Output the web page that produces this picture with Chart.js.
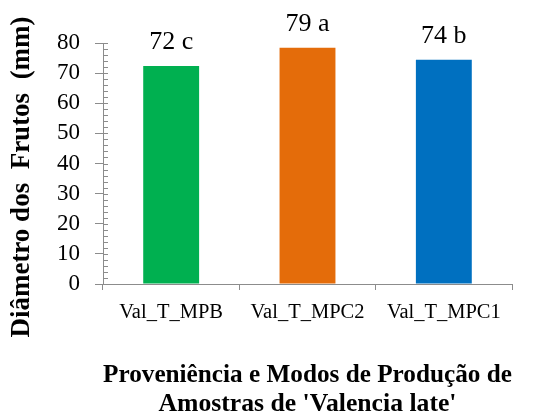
<!DOCTYPE html>
<html>
<head>
<meta charset="utf-8">
<script src="https://cdn.jsdelivr.net/npm/chart.js@4/dist/chart.umd.min.js"></script>
<style>
  html, body { margin: 0; padding: 0; background: #ffffff; }
  #wrap { width: 533px; height: 416px; }
</style>
</head>
<body>
<div id="wrap"><canvas id="c" width="533" height="416"></canvas></div>
<script>
const categories = ['Val_T_MPB', 'Val_T_MPC2', 'Val_T_MPC1'];
const values = [72.4, 78.4, 74.4];
const valueLabels = ['72 c', '79 a', '74 b'];
const barColors = ['#00B050', '#E46C0A', '#0070C0'];
const yTitle = 'Diâmetro dos  Frutos  (mm)    ';
const xTitle = ['Proveniência e Modos de Produção de', "Amostras de 'Valencia late'"];

const SERIF = '"Liberation Serif", "Times New Roman", serif';
const AXIS = '#8c8c8c';

const minorTicks = {
  id: 'minorTicks',
  afterDraw(chart) {
    const y = chart.scales.y;
    const ctx = chart.ctx;
    const left = chart.chartArea.left;
    ctx.save();
    ctx.strokeStyle = AXIS;
    ctx.lineWidth = 1;
    for (let v = y.min; v <= y.max; v += 2) {
      const p = Math.round(y.getPixelForValue(v)) + 0.5;
      ctx.beginPath();
      ctx.moveTo(left, p);
      ctx.lineTo(left + 5, p);
      ctx.stroke();
    }
    ctx.restore();
  }
};

const barLabels = {
  id: 'barLabels',
  afterDatasetsDraw(chart) {
    const ctx = chart.ctx;
    const meta = chart.getDatasetMeta(0);
    ctx.save();
    ctx.fillStyle = '#000';
    ctx.font = '26px ' + SERIF;
    ctx.textAlign = 'center';
    ctx.textBaseline = 'alphabetic';
    meta.data.forEach((bar, i) => {
      ctx.fillText(valueLabels[i], bar.x, bar.y - 17);
    });
    ctx.restore();
  }
};

new Chart(document.getElementById('c'), {
  type: 'bar',
  data: {
    labels: categories,
    datasets: [{
      data: values,
      backgroundColor: barColors,
      borderWidth: 0,
      barPercentage: 0.41,
      categoryPercentage: 1.0
    }]
  },
  options: {
    responsive: false,
    animation: false,
    devicePixelRatio: 1,
    layout: { padding: { top: 43, right: 21, left: 0, bottom: 0 } },
    plugins: { legend: { display: false }, tooltip: { enabled: false } },
    scales: {
      x: {
        afterFit(scale) { scale.height = 132; },
        grid: { display: true, drawOnChartArea: false, drawTicks: true, tickLength: 6, color: AXIS, offset: true },
        border: { display: true, color: AXIS, width: 1 },
        ticks: { color: '#000', font: { family: SERIF, size: 20.5 }, padding: 10, maxRotation: 0, autoSkip: false },
        title: {
          display: true,
          text: xTitle,
          color: '#000',
          font: { family: SERIF, size: 25.7, weight: 'bold', lineHeight: '29px' },
          padding: { top: 0, bottom: -3 }
        }
      },
      y: {
        min: 0,
        max: 80,
        afterFit(scale) { scale.width = 103; },
        grid: { display: true, drawOnChartArea: false, drawTicks: true, tickLength: 8, color: AXIS },
        border: { display: true, color: AXIS, width: 1 },
        ticks: { stepSize: 10, color: '#000', font: { family: SERIF, size: 23 }, padding: 15, autoSkip: false },
        title: {
          display: true,
          text: yTitle,
          color: '#000',
          font: { family: SERIF, size: 27, weight: 'bold', lineHeight: '28px' },
          padding: { top: 8, bottom: 0 }
        }
      }
    }
  },
  plugins: [minorTicks, barLabels]
});
</script>
</body>
</html>
